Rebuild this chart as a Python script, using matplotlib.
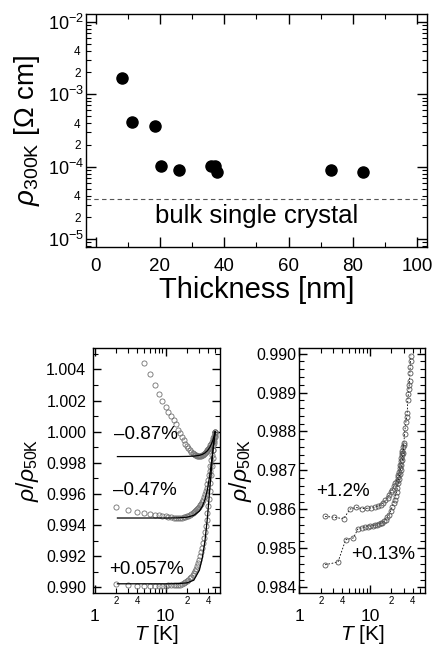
import math

import matplotlib

matplotlib.use("Agg")
import matplotlib.pyplot as plt
from matplotlib.ticker import (FuncFormatter, LogLocator, MultipleLocator,
                               FormatStrFormatter)

plt.rcParams["font.family"] = ["Liberation Sans", "DejaVu Sans"]
plt.rcParams["mathtext.fontset"] = "custom"
plt.rcParams["mathtext.rm"] = "Liberation Sans"
plt.rcParams["mathtext.it"] = "Liberation Sans:italic"
plt.rcParams["axes.linewidth"] = 1.0

# ---- top panel: room-temperature resistivity vs film thickness ----
thickness_nm = [8.3, 11.4, 18.6, 20.3, 25.8, 35.8, 37.2, 37.7, 73.1, 83.1]
rho_300k = [1.65e-3, 4.2e-4, 3.7e-4, 1.02e-4, 9.1e-5, 1.02e-4, 1.03e-4,
            8.4e-5, 9.1e-5, 8.4e-5]
rho_bulk = 3.6e-5

# ---- bottom left: normalised resistivity, three strains ----
T_087 = [5, 6, 7, 8, 9, 10, 11, 12, 13, 14, 15, 16, 17, 18, 19, 20, 21, 22,
         23, 24, 25, 26, 27, 28, 29, 30, 31, 32, 33, 34, 35, 36, 37, 38, 39,
         40, 41, 42, 43, 44, 45, 46, 47, 48, 49, 50]
r_087 = [1.00442, 1.00368, 1.00299, 1.00242, 1.00199, 1.00158, 1.00128,
         1.00100, 1.00074, 1.00048, 1.00013, 0.99990, 0.99966, 0.99944,
         0.99924, 0.99908, 0.99895, 0.99883, 0.99872, 0.99863, 0.99856,
         0.99851, 0.99847, 0.99844, 0.99842, 0.99841, 0.99842, 0.99844,
         0.99847, 0.99851, 0.99856, 0.99862, 0.99868, 0.99875, 0.99882,
         0.99889, 0.99896, 0.99904, 0.99913, 0.99923, 0.99934, 0.99946,
         0.99959, 0.99972, 0.99986, 1.00000]

T_grid = [2, 3, 4, 5, 6, 7, 8, 9, 10, 11, 12, 13, 14, 15, 16, 17, 18, 19, 20,
          21, 22, 23, 24, 25, 26, 27, 28, 29, 30, 31, 32, 33, 34, 35, 36, 37,
          38, 39, 40, 41, 42, 43, 44, 45, 46, 47, 48, 49, 50]
r_047 = [0.99515, 0.99494, 0.99483, 0.99477, 0.99471, 0.99466, 0.99462,
         0.99458, 0.99455, 0.99452, 0.99450, 0.99448, 0.99447, 0.99446,
         0.99446, 0.99447, 0.99449, 0.99452, 0.99456, 0.99461, 0.99466,
         0.99472, 0.99478, 0.99484, 0.99491, 0.99498, 0.99505, 0.99512,
         0.99519, 0.99528, 0.99538, 0.99550, 0.99564, 0.99580, 0.99598,
         0.99618, 0.99640, 0.99665, 0.99692, 0.99720, 0.99750, 0.99782,
         0.99815, 0.99848, 0.99880, 0.99912, 0.99943, 0.99972, 1.00000]
r_057 = [0.99022, 0.99012, 0.99010, 0.99010, 0.99010, 0.99010, 0.99011,
         0.99011, 0.99011, 0.99012, 0.99012, 0.99012, 0.99013, 0.99013,
         0.99015, 0.99020, 0.99026, 0.99033, 0.99040, 0.99048, 0.99057,
         0.99067, 0.99078, 0.99090, 0.99104, 0.99119, 0.99136, 0.99155,
         0.99176, 0.99200, 0.99226, 0.99254, 0.99285, 0.99318, 0.99354,
         0.99392, 0.99432, 0.99475, 0.99520, 0.99568, 0.99618, 0.99670,
         0.99723, 0.99777, 0.99832, 0.99880, 0.99925, 0.99965, 1.00000]

fit_T = [2.1, 5, 10, 15, 20, 25, 30, 33, 36, 39, 42, 44, 46, 48, 50]
fit_087 = [0.99840, 0.99840, 0.99840, 0.99840, 0.99841, 0.99843, 0.99848,
           0.99854, 0.99864, 0.99878, 0.99899, 0.99918, 0.99940, 0.99967,
           1.00000]
fit_047 = [0.99445, 0.99445, 0.99445, 0.99446, 0.99450, 0.99462, 0.99490,
           0.99520, 0.99565, 0.99630, 0.99720, 0.99790, 0.99865, 0.99935,
           1.00000]
fit_057 = [0.99022, 0.99022, 0.99022, 0.99023, 0.99028, 0.99045, 0.99110,
           0.99190, 0.99300, 0.99450, 0.99630, 0.99740, 0.99850, 0.99930,
           1.00000]

# ---- bottom right: two tensile strains ----
T_12 = [2.3, 3.1, 4.2, 5.2, 6.3, 7.6, 9.0, 10.4, 11.6, 12.8, 14.0, 15.2,
        16.4, 17.6, 18.6, 19.5, 20.5, 21.6, 22.6, 23.6, 24.4, 25.0, 25.6,
        26.0, 26.5, 26.9, 27.4, 27.8, 28.2, 28.6, 29.3, 29.9, 30.6, 31.3,
        32.0, 32.7, 33.4, 34.0, 34.6, 35.2, 35.6, 36.0, 36.4, 36.8, 37.2,
        37.6]
r_12 = [0.98582, 0.98580, 0.98576, 0.98601, 0.98605, 0.98602, 0.98603,
        0.98604, 0.98606, 0.98608, 0.98612, 0.98617, 0.98623, 0.98630,
        0.98637, 0.98644, 0.98651, 0.98659, 0.98667, 0.98674, 0.98682,
        0.98689, 0.98697, 0.98706, 0.98714, 0.98723, 0.98731, 0.98740,
        0.98745, 0.98751, 0.98760, 0.98770, 0.98793, 0.98810, 0.98825,
        0.98836, 0.98848, 0.98880, 0.98895, 0.98909, 0.98919, 0.98929,
        0.98949, 0.98966, 0.98981, 0.98995]
T_013 = [2.3, 3.5, 4.5, 5.8, 6.7, 7.6, 8.4, 9.2, 10.0, 10.8, 11.6, 12.4,
         13.2, 14.0, 14.8, 15.6, 16.5, 17.4, 18.4, 19.4, 20.5, 21.4, 22.2,
         22.9, 23.6, 24.3, 24.9, 25.5, 26.2, 26.9, 27.6, 28.4, 29.2, 30.0]
r_013 = [0.98458, 0.98465, 0.98522, 0.98527, 0.98550, 0.98553, 0.98555,
         0.98556, 0.98557, 0.98558, 0.98559, 0.98560, 0.98562, 0.98564,
         0.98566, 0.98570, 0.98574, 0.98580, 0.98586, 0.98596, 0.98607,
         0.98616, 0.98625, 0.98635, 0.98646, 0.98656, 0.98667, 0.98679,
         0.98690, 0.98702, 0.98714, 0.98727, 0.98745, 0.98765]


def minor_24(v, pos):
    # only the 2 and 4 of each decade get a small label
    m = round(v / 10 ** math.floor(math.log10(v) + 1e-9))
    return str(m) if m in (2, 4) else ""


def plain_major(v, pos):
    return f"{v:g}"


fig = plt.figure(figsize=(4.35, 6.45), dpi=100)

# ===== top =====
ax = fig.add_axes([0.1977, 0.6171, 0.7839, 0.3612])
ax.plot(thickness_nm, rho_300k, "o", color="black", ms=8)
ax.axhline(rho_bulk, color="#555555", lw=0.8, ls=(0, (4, 3)))
ax.text(50, 2.1e-5, "bulk single crystal", ha="center", va="center",
        fontsize=18.5)
ax.set_yscale("log")
ax.set_xlim(-3, 103)
ax.set_ylim(7.8e-6, 1.28e-2)
ax.xaxis.set_major_locator(MultipleLocator(20))
ax.xaxis.set_minor_locator(MultipleLocator(10))
ax.yaxis.set_major_locator(LogLocator(base=10))
ax.yaxis.set_minor_locator(LogLocator(base=10, subs=range(2, 10)))
ax.yaxis.set_minor_formatter(FuncFormatter(minor_24))
ax.tick_params(which="both", direction="in", top=True, right=True)
ax.tick_params(which="major", length=7, width=1.0)
ax.tick_params(which="minor", length=3.5, width=0.8)
ax.tick_params(axis="x", which="major", labelsize=13.5, pad=8)
ax.tick_params(axis="y", which="major", labelsize=13, pad=1.5)
ax.tick_params(axis="y", which="minor", labelsize=8.5, pad=4)
ax.set_xlabel("Thickness [nm]", fontsize=21, va="center")
ax.xaxis.set_label_coords(0.5, -0.185)
ax.set_ylabel(r"$\rho_{\rm 300K}$ [Ω cm]", fontsize=20, va="center")
ax.yaxis.set_label_coords(-0.174, 0.5)

circ = dict(ls="none", marker="o", mfc="none", mec="#707070", mew=0.6)


def style_bottom(a):
    a.set_xscale("log")
    a.xaxis.set_major_locator(LogLocator(base=10))
    a.xaxis.set_major_formatter(FuncFormatter(plain_major))
    a.xaxis.set_minor_locator(LogLocator(base=10, subs=range(2, 10)))
    a.xaxis.set_minor_formatter(FuncFormatter(minor_24))
    a.tick_params(which="both", direction="in", top=True, right=True)
    a.tick_params(which="major", length=6, width=1.0)
    a.tick_params(which="minor", length=3.5, width=0.8)
    a.tick_params(axis="x", which="major", labelsize=12.5, pad=12)
    a.tick_params(axis="x", which="minor", labelsize=7, pad=2.5)
    a.tick_params(axis="y", which="major", labelsize=11.5)
    a.set_xlabel("$T$ [K]", fontsize=15, va="center")
    a.xaxis.set_label_coords(0.5, -0.172)


# ===== bottom left =====
axl = fig.add_axes([0.2145, 0.0809, 0.2901, 0.3788])
axl.plot(T_087, r_087, ms=3.7, **circ)
axl.plot(T_grid, r_047, ms=3.7, **circ)
axl.plot(T_grid, r_057, ms=3.7, **circ)
for fy in (fit_087, fit_047, fit_057):
    axl.plot(fit_T, fy, color="black", lw=0.9)
axl.text(0.42, 0.646, "\u20130.87%", transform=axl.transAxes, fontsize=13.5,
         ha="center", va="center")
axl.text(0.41, 0.42, "\u20130.47%", transform=axl.transAxes, fontsize=13.5,
         ha="center", va="center")
axl.text(0.42, 0.096, "+0.057%", transform=axl.transAxes, fontsize=13.5,
         ha="center", va="center")
axl.set_xlim(0.96, 57.6)
axl.set_ylim(0.98964, 1.00535)
axl.yaxis.set_major_locator(MultipleLocator(0.002))
axl.yaxis.set_minor_locator(MultipleLocator(0.001))
axl.yaxis.set_major_formatter(FormatStrFormatter("%.3f"))
style_bottom(axl)
axl.tick_params(axis="y", which="major", pad=5)
axl.set_ylabel(r"$\rho$/$\rho_{\rm 50K}$", fontsize=16.5, va="center")
axl.yaxis.set_label_coords(-0.524, 0.5)

# ===== bottom right =====
axr = fig.add_axes([0.6885, 0.0809, 0.2885, 0.3788])
axr.plot(T_12, r_12, color="black", lw=0.6, ls=(0, (2, 2)), ms=3.6,
         marker="o", mfc="none", mec="#555555", mew=0.6)
axr.plot(T_013, r_013, color="black", lw=0.6, ls=(0, (2, 2)), ms=3.6,
         marker="o", mfc="none", mec="#555555", mew=0.6)
axr.text(0.35, 0.415, "+1.2%", transform=axr.transAxes, fontsize=13.5,
         ha="center", va="center")
axr.text(0.67, 0.155, "+0.13%", transform=axr.transAxes, fontsize=13.5,
         ha="center", va="center")
axr.set_xlim(1.0, 59.6)
axr.set_ylim(0.98386, 0.99013)
axr.yaxis.set_major_locator(MultipleLocator(0.001))
axr.yaxis.set_minor_locator(MultipleLocator(0.0002))
axr.yaxis.set_major_formatter(FormatStrFormatter("%.3f"))
style_bottom(axr)
axr.tick_params(axis="y", which="major", pad=2)
axr.set_ylabel(r"$\rho$/$\rho_{\rm 50K}$", fontsize=16.5, va="center")
axr.yaxis.set_label_coords(-0.47, 0.5)

fig.savefig("out.png", dpi=100)
